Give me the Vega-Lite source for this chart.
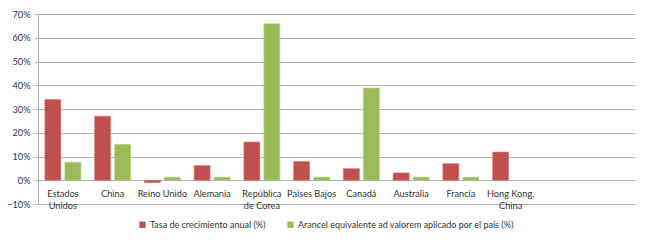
{
  "$schema": "https://vega.github.io/schema/vega-lite/v6.json",
  "autosize": "none",
  "width": 597,
  "height": 190,
  "padding": {"left": 38, "top": 14, "right": 14, "bottom": 39},
  "background": "white",
  "config": {
    "font": "Lato",
    "view": {"stroke": null},
    "axis": {"labelFont": "Lato", "labelColor": "#333333", "labelFontSize": 9.2},
    "legend": {"labelFont": "Lato", "labelColor": "#333333", "labelFontSize": 9}
  },
  "data": {
    "values": [
      {"pais": "Estados|Unidos", "serie": "Tasa de crecimiento anual (%)", "valor": 0.34},
      {"pais": "Estados|Unidos", "serie": "Arancel equivalente ad valorem aplicado por el país (%)", "valor": 0.076},
      {"pais": "China", "serie": "Tasa de crecimiento anual (%)", "valor": 0.27},
      {"pais": "China", "serie": "Arancel equivalente ad valorem aplicado por el país (%)", "valor": 0.151},
      {"pais": "Reino Unido", "serie": "Tasa de crecimiento anual (%)", "valor": -0.01},
      {"pais": "Reino Unido", "serie": "Arancel equivalente ad valorem aplicado por el país (%)", "valor": 0.013},
      {"pais": "Alemania", "serie": "Tasa de crecimiento anual (%)", "valor": 0.062},
      {"pais": "Alemania", "serie": "Arancel equivalente ad valorem aplicado por el país (%)", "valor": 0.013},
      {"pais": "República|de Corea", "serie": "Tasa de crecimiento anual (%)", "valor": 0.161},
      {"pais": "República|de Corea", "serie": "Arancel equivalente ad valorem aplicado por el país (%)", "valor": 0.659},
      {"pais": "Países Bajos", "serie": "Tasa de crecimiento anual (%)", "valor": 0.079},
      {"pais": "Países Bajos", "serie": "Arancel equivalente ad valorem aplicado por el país (%)", "valor": 0.013},
      {"pais": "Canadá", "serie": "Tasa de crecimiento anual (%)", "valor": 0.049},
      {"pais": "Canadá", "serie": "Arancel equivalente ad valorem aplicado por el país (%)", "valor": 0.388},
      {"pais": "Australia", "serie": "Tasa de crecimiento anual (%)", "valor": 0.031},
      {"pais": "Australia", "serie": "Arancel equivalente ad valorem aplicado por el país (%)", "valor": 0.013},
      {"pais": "Francia", "serie": "Tasa de crecimiento anual (%)", "valor": 0.07},
      {"pais": "Francia", "serie": "Arancel equivalente ad valorem aplicado por el país (%)", "valor": 0.013},
      {"pais": "Hong Kong,|China", "serie": "Tasa de crecimiento anual (%)", "valor": 0.119}
    ]
  },
  "mark": {"type": "bar", "strokeWidth": 0.6},
  "encoding": {
    "x": {
      "field": "pais",
      "type": "nominal",
      "sort": null,
      "scale": {
        "domain": ["Estados|Unidos", "China", "Reino Unido", "Alemania", "República|de Corea", "Países Bajos", "Canadá", "Australia", "Francia", "Hong Kong,|China", " ", "  "],
        "paddingInner": 0.276,
        "paddingOuter": 0.138
      },
      "axis": {
        "title": null,
        "orient": "bottom",
        "offset": -23.7,
        "domain": false,
        "ticks": false,
        "labelAngle": 0,
        "labelPadding": 9,
        "labelLineHeight": 12,
        "labelExpr": "split(datum.label, '|')"
      }
    },
    "xOffset": {
      "field": "serie",
      "type": "nominal",
      "sort": ["Tasa de crecimiento anual (%)", "Arancel equivalente ad valorem aplicado por el país (%)"],
      "scale": {"paddingInner": 0.2, "paddingOuter": 0}
    },
    "y": {
      "field": "valor",
      "type": "quantitative",
      "scale": {"domain": [-0.1, 0.7], "nice": false},
      "axis": {
        "title": null,
        "format": ".0%",
        "values": [-0.1, 0, 0.1, 0.2, 0.3, 0.4, 0.5, 0.6, 0.7],
        "grid": true,
        "gridColor": "#B0B0B0",
        "gridWidth": 1,
        "domain": true,
        "domainColor": "#B0B0B0",
        "ticks": true,
        "tickSize": 4,
        "tickColor": "#B0B0B0",
        "labelPadding": 4
      }
    },
    "color": {
      "field": "serie",
      "type": "nominal",
      "sort": ["Tasa de crecimiento anual (%)", "Arancel equivalente ad valorem aplicado por el país (%)"],
      "scale": {"range": ["#C0504D", "#9BBB59"]},
      "legend": {
        "title": null,
        "orient": "none",
        "direction": "horizontal",
        "legendX": 100,
        "legendY": 206,
        "symbolType": "square",
        "symbolSize": 40,
        "symbolStrokeWidth": 0,
        "columnPadding": 20,
        "labelOffset": 3,
        "labelLimit": 0
      }
    },
    "stroke": {
      "field": "serie",
      "type": "nominal",
      "sort": ["Tasa de crecimiento anual (%)", "Arancel equivalente ad valorem aplicado por el país (%)"],
      "scale": {"range": ["#D27C7A", "#B5CE88"]},
      "legend": null
    }
  }
}
